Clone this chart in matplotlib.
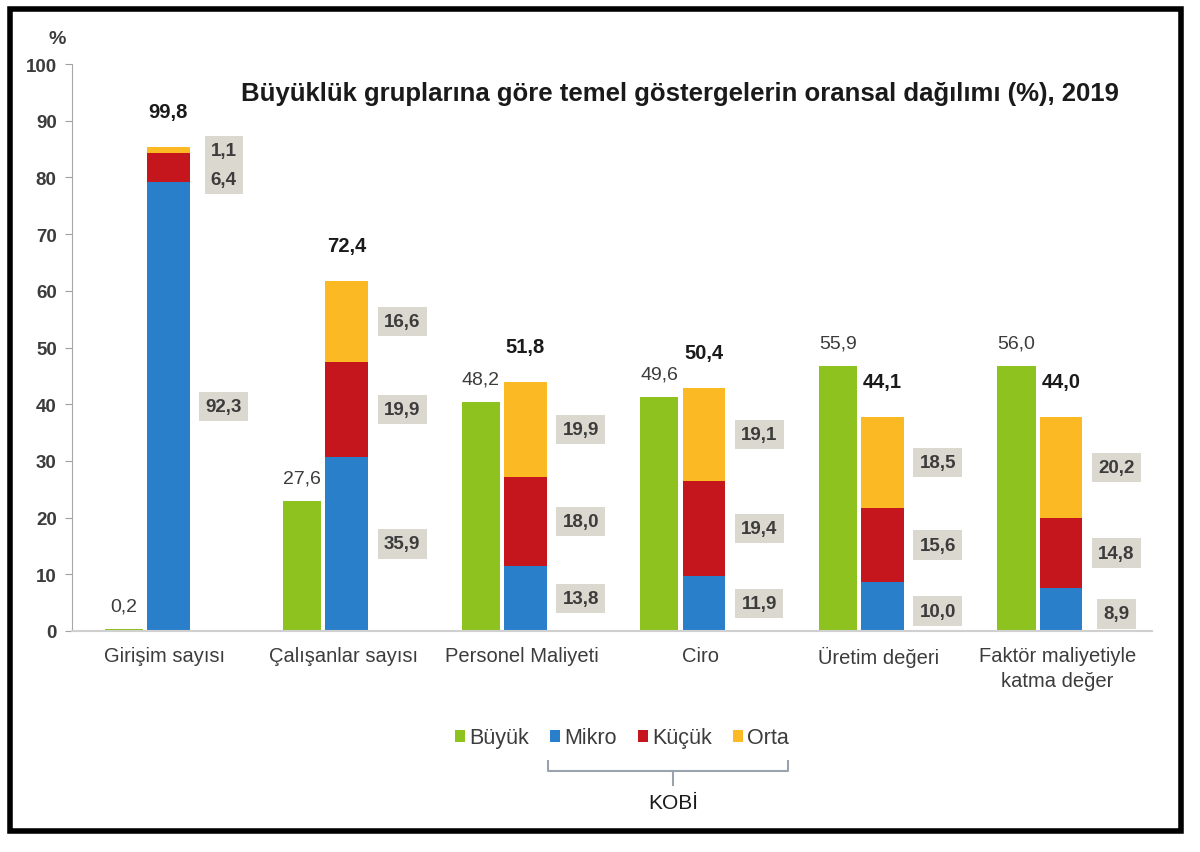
import matplotlib
matplotlib.use("Agg")
import matplotlib.pyplot as plt
from matplotlib.patches import Rectangle, Patch
from matplotlib.lines import Line2D
import numpy as np

plt.rcParams['font.family'] = ['Liberation Sans', 'DejaVu Sans']

# ---- data ----
categories = ["Girişim sayısı", "Çalışanlar sayısı", "Personel Maliyeti",
              "Ciro", "Üretim değeri", "Faktör maliyetiyle\nkatma değer"]
# printed values (%)
buyuk_pct = [0.2, 27.6, 48.2, 49.6, 55.9, 56.0]
kobi_pct = [99.8, 72.4, 51.8, 50.4, 44.1, 44.0]
mikro_pct = [92.3, 35.9, 13.8, 11.9, 10.0, 8.9]
kucuk_pct = [6.4, 19.9, 18.0, 19.4, 15.6, 14.8]
orta_pct = [1.1, 16.6, 19.9, 19.1, 18.5, 20.2]
# bar heights as drawn in the picture (against the 0-100 axis)
buyuk_bar = [0.3, 22.9, 40.4, 41.3, 46.7, 46.7]
mikro_bar = [79.2, 30.7, 11.5, 9.7, 8.6, 7.6]
kucuk_bar = [5.1, 16.7, 15.7, 16.8, 13.1, 12.3]
orta_bar = [1.1, 14.3, 16.7, 16.3, 16.0, 17.8]
legend_labels = ["Büyük", "Mikro", "Küçük", "Orta"]
y_ticks = [0, 10, 20, 30, 40, 50, 60, 70, 80, 90, 100]

C_GREEN = "#8dc21f"
C_BLUE = "#2a7fcb"
C_RED = "#c5161d"
C_ORANGE = "#fbb924"
C_BOX = "#dbd8cf"
C_TXT = "#3c3c3c"

W, H = 1200, 853
fig = plt.figure(figsize=(W / 100, H / 100), dpi=100)


def fx(px):
    return px / W


def fy(py):
    return 1 - py / H


ax = fig.add_axes([fx(72), fy(632), fx(1152) - fx(72), fy(65) - fy(632)])
x = np.arange(len(categories))
xg = x - 0.23
xs = x + 0.02

ax.bar(xg, buyuk_bar, width=0.215, color=C_GREEN, zorder=2)
ax.bar(xs, mikro_bar, width=0.24, color=C_BLUE, zorder=2)
b1 = np.array(mikro_bar)
ax.bar(xs, kucuk_bar, width=0.24, bottom=b1, color=C_RED, zorder=2)
b2 = b1 + np.array(kucuk_bar)
ax.bar(xs, orta_bar, width=0.24, bottom=b2, color=C_ORANGE, zorder=2)
tops = b2 + np.array(orta_bar)


def fmt(v):
    return f"{v:.1f}".replace(".", ",")


# Büyük labels
for xi, h, v in zip(xg, buyuk_bar, buyuk_pct):
    ax.text(xi, h + 4.1, fmt(v), ha="center", va="center", fontsize=14,
            color=C_TXT)
# KOBİ totals
for xi, h, v in zip(xs, tops, kobi_pct):
    ax.text(xi, h + 6.3, fmt(v), ha="center", va="center", fontsize=14.5,
            fontweight="bold", color="#1a1a1a")

# segment labels in boxes
box = dict(boxstyle="square,pad=0.33", fc=C_BOX, ec="none")
xb = x + 0.33
mid_m = b1 / 2
mid_k = b1 + np.array(kucuk_bar) / 2
mid_o = b2 + np.array(orta_bar) / 2
for i in range(len(categories)):
    ym, yk, yo = mid_m[i], mid_k[i], mid_o[i]
    if i == 0:
        yk, yo = 79.7, 84.7
    if i >= 4:
        ym -= 0.8
    for yy, v in ((ym, mikro_pct[i]), (yk, kucuk_pct[i]), (yo, orta_pct[i])):
        ax.text(xb[i], yy, fmt(v), ha="center", va="center", fontsize=13.5,
                fontweight="bold", color=C_TXT, bbox=box, zorder=3)

ax.set_xlim(-0.52, 5.53)
ax.set_ylim(0, 100)
ax.set_yticks(y_ticks)
ax.set_yticklabels([str(t) for t in y_ticks], fontsize=13.5, fontweight="bold",
                   color=C_TXT)
ax.tick_params(axis="y", length=5, color="#a0a0a0", pad=6, direction="out")
ax.set_xticks(x)
ax.set_xticklabels(categories, fontsize=14.5, color=C_TXT, linespacing=1.4)
ax.tick_params(axis="x", length=0, pad=11)
for s in ("top", "right"):
    ax.spines[s].set_visible(False)
ax.spines["left"].set_color("#a8a8a8")
ax.spines["bottom"].set_color("#d0d0d0")
ax.spines["bottom"].set_linewidth(1.5)

# "%" label
fig.text(fx(57), fy(40), "%", ha="center", va="center", fontsize=14,
         fontweight="bold", color=C_TXT)

# title
fig.text(fx(680), fy(94),
         "Büyüklük gruplarına göre temel göstergelerin oransal dağılımı (%), 2019",
         ha="center", va="center", fontsize=18.5, fontweight="bold",
         color="#1a1a1a")

# legend
handles = [Patch(facecolor=c, edgecolor="none")
           for c in (C_GREEN, C_BLUE, C_RED, C_ORANGE)]
leg = fig.legend(handles, legend_labels, loc="center",
                 bbox_to_anchor=(fx(622), fy(739)), ncol=4, frameon=False,
                 fontsize=15.5, handlelength=0.45, handleheight=0.45,
                 handletextpad=0.2, columnspacing=1.0, labelcolor=C_TXT)

# KOBİ bracket
bc = "#9aa3ad"
fig.add_artist(Line2D([fx(548), fx(548), fx(788), fx(788)],
                      [fy(762), fy(772), fy(772), fy(762)],
                      color=bc, lw=1.5, transform=fig.transFigure))
fig.add_artist(Line2D([fx(673), fx(673)], [fy(772), fy(786)], color=bc, lw=1.5,
                      transform=fig.transFigure))
fig.text(fx(673), fy(804), "KOBİ", ha="center", va="center", fontsize=15,
         color="#1a1a1a")

# frame
fig.add_artist(Rectangle((fx(10), fy(832)), fx(1181) - fx(10), fy(10) - fy(832),
                         transform=fig.transFigure, fill=False, ec="black",
                         lw=4))

fig.savefig("out.png", dpi=100)
